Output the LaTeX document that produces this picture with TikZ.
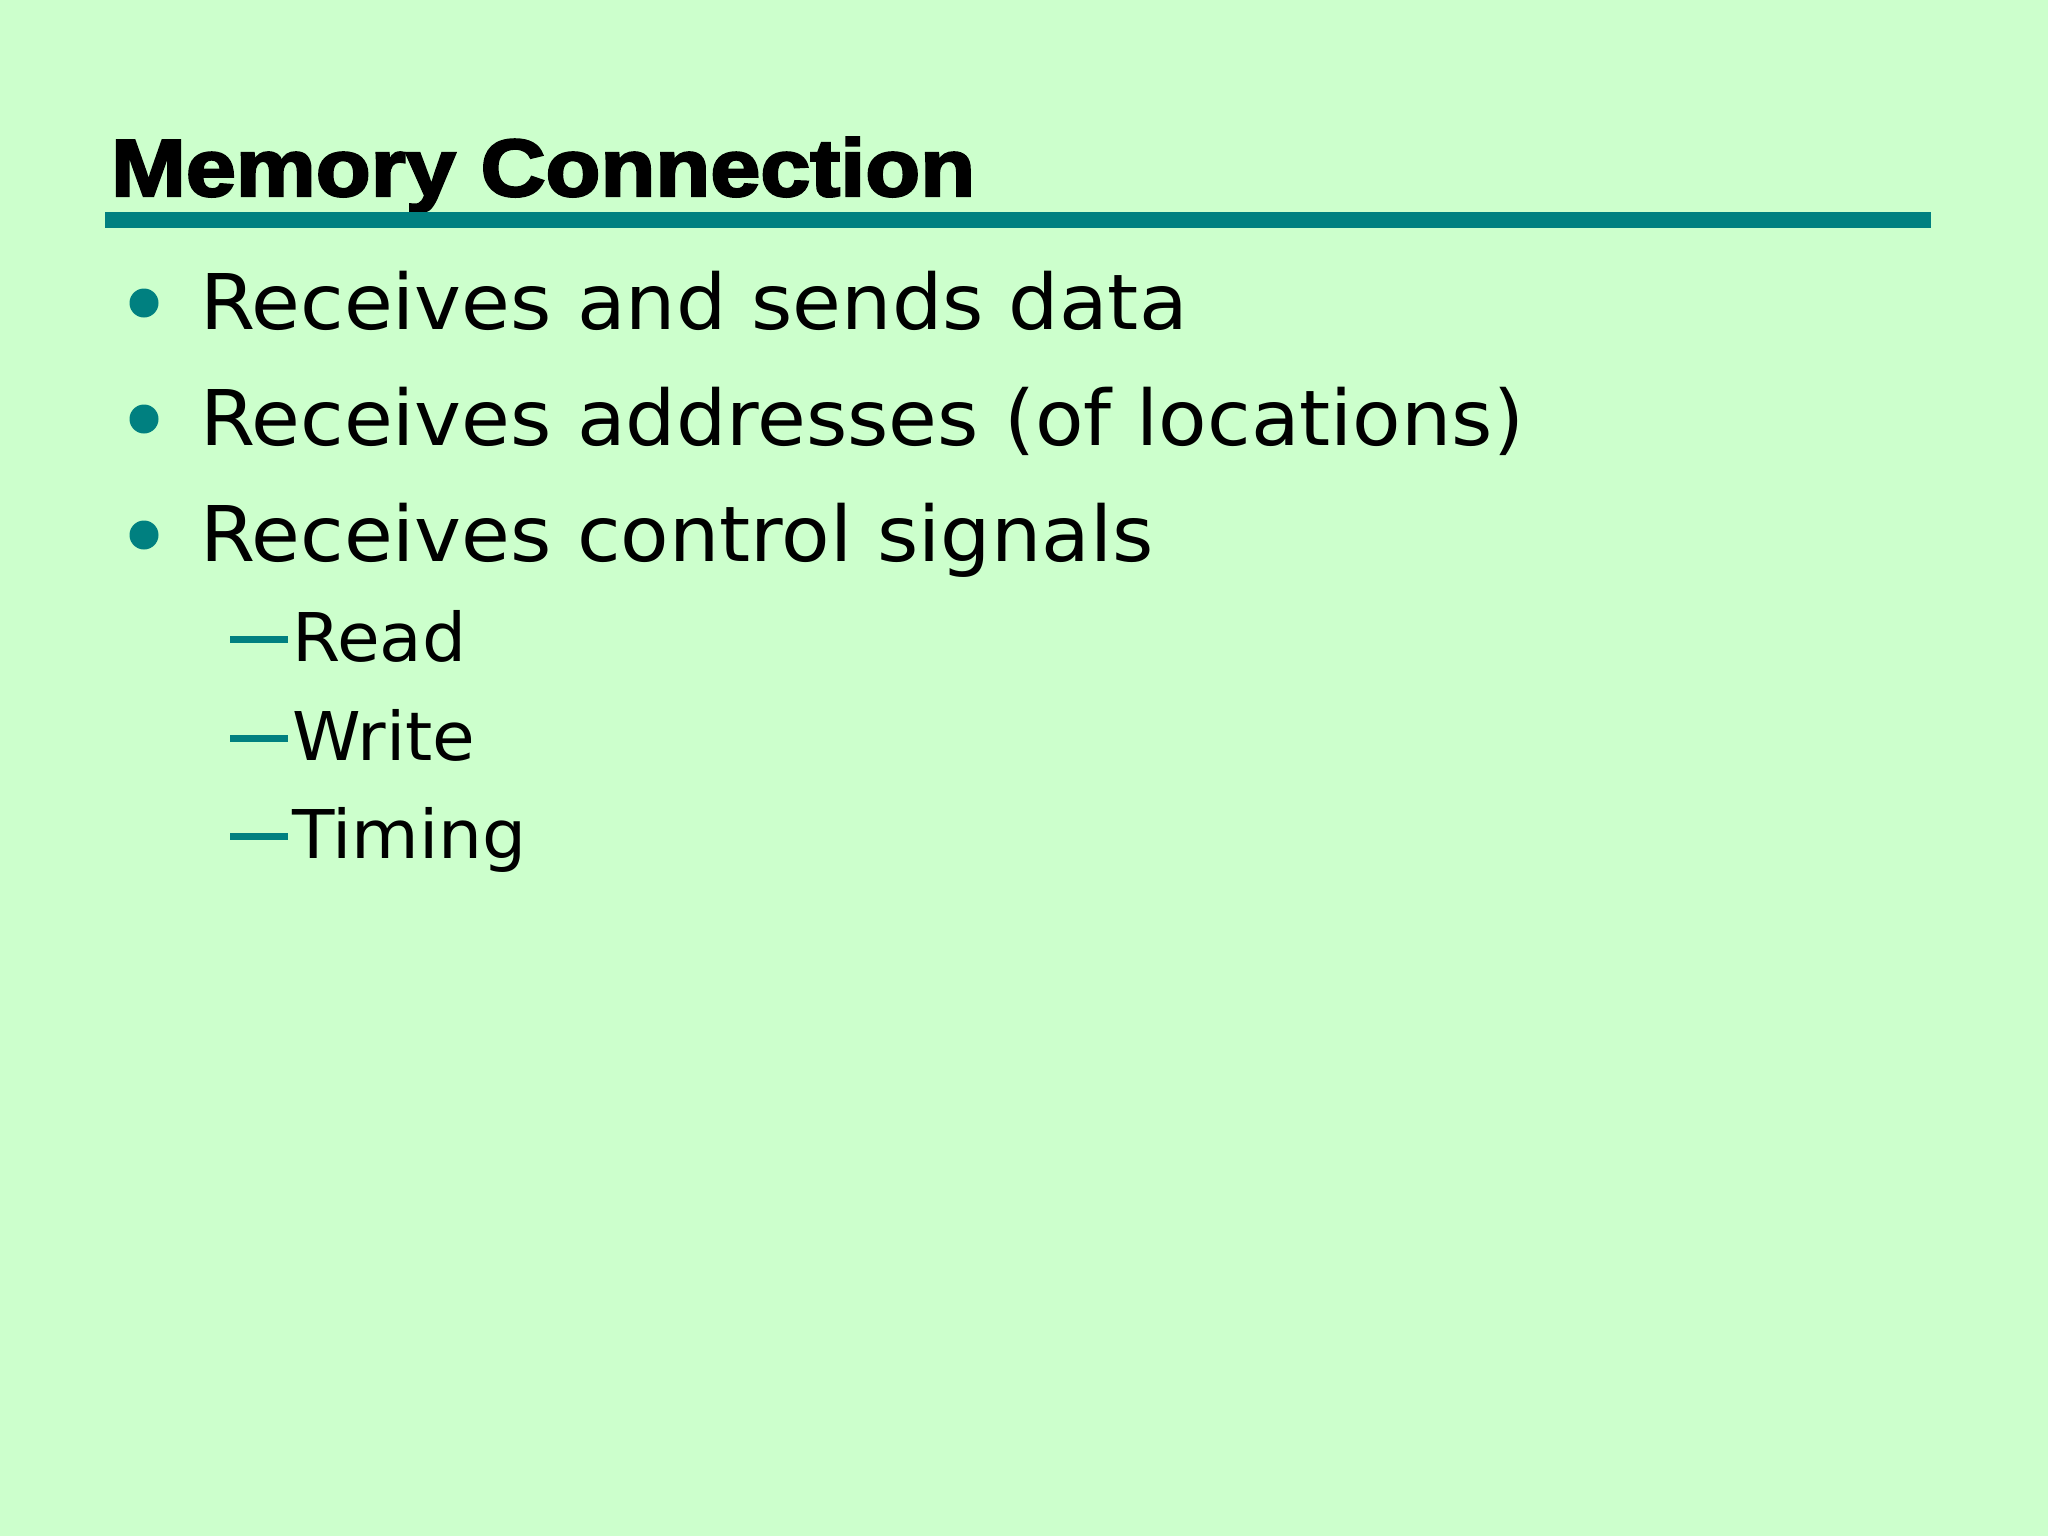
\documentclass[tikz,border=0pt]{standalone}
\usepackage{fontspec}
\newfontfamily\titlefont[FakeStretch=1.11,FakeBold=3]{Liberation Sans Bold}
\newfontfamily\bodyfont[FakeStretch=1.033]{DejaVu Sans}
\definecolor{bgcol}{HTML}{CCFFCC}
\definecolor{teal}{HTML}{008080}
\tikzset{
  titletext/.style={anchor=base west, inner sep=0pt, outer sep=0pt, font=\titlefont\fontsize{40.5}{48}\selectfont, text=black},
  maintext/.style={anchor=base west, inner sep=0pt, outer sep=0pt, font=\bodyfont\fontsize{38.4}{46}\selectfont, text=black},
  subtext/.style={anchor=base west, inner sep=0pt, outer sep=0pt, font=\bodyfont\fontsize{33.6}{40}\selectfont, text=black},
  dot/.style={fill=teal, draw=none},
  subdash/.style={draw=teal, line width=3.5pt},
}
\begin{document}
\begin{tikzpicture}[x=0.5pt,y=-0.5pt]
  \fill[bgcol] (0,0) rectangle (2048,1536);
  \useasboundingbox (0,0) rectangle (2048,1536);
  % title
  \node[titletext] (title) at (111,196) {Memory Connection};
  \fill[teal] (105,212) rectangle (1931,228);
  % main bullets
  \fill[dot] (144,303) circle (14.5);
  \node[maintext] (b1) at (200,329) {Receives and sends data};
  \fill[dot] (144,419) circle (14.5);
  \node[maintext] (b2) at (200,445) {Receives addresses (of locations)};
  \fill[dot] (144,535) circle (14.5);
  \node[maintext] (b3) at (200,561) {Receives control signals};
  % sub bullets
  \draw[subdash] (230,639) -- (288,639);
  \node[subtext] (s1) at (292,661) {Read};
  \draw[subdash] (230,738) -- (288,738);
  \node[subtext] (s2) at (292,760) {Write};
  \draw[subdash] (230,836) -- (288,836);
  \node[subtext] (s3) at (292,858) {Timing};
\end{tikzpicture}
\end{document}
